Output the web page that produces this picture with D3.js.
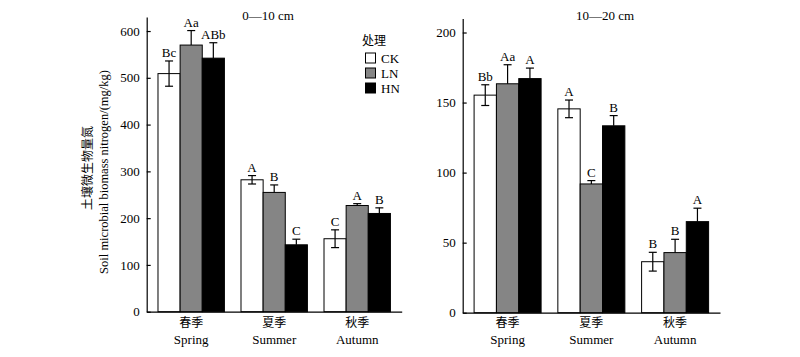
<!DOCTYPE html>
<html>
<head>
<meta charset="utf-8">
<script src="https://cdn.jsdelivr.net/npm/d3@7"></script>
<style>
  html, body { margin: 0; padding: 0; background: #fff; }
  svg text { font-family: "Liberation Serif", "Times New Roman", "Noto Sans CJK SC", serif; fill: #000; }
</style>
</head>
<body>
<svg id="chart" width="800" height="357"></svg>
<script>
// ---- data ----
const seasonsZh = ["春季", "夏季", "秋季"];
const seasonsEn = ["Spring", "Summer", "Autumn"];
const treatments = ["CK", "LN", "HN"];
const colors = ["#ffffff", "#858585", "#000000"];

// 0-10 cm
const top10Mean = [[509, 570, 542], [282, 255, 143], [156, 227, 210]];
const top10Err  = [[27, 31, 33], [9, 16, 12], [19, 4, 12]];
const top10Lab  = [["Bc", "Aa", "ABb"], ["A", "B", "C"], ["C", "A", "B"]];
const top10Ticks = [0, 100, 200, 300, 400, 500, 600];

// 10-20 cm
const sub20Mean = [[155.3, 163.4, 167.1], [145.5, 91.9, 133.4], [36.4, 42.9, 65]];
const sub20Err  = [[7.4, 13.6, 7.5], [6.3, 2.4, 7.3], [6.7, 9.5, 9.6]];
const sub20Lab  = [["Bb", "Aa", "A"], ["A", "C", "B"], ["B", "B", "A"]];
const sub20Ticks = [0, 50, 100, 150, 200];

const svg = d3.select("#chart");

function panel(cfg) {
  const g = svg.append("g");
  const x0 = d3.scaleBand().domain(seasonsEn).range([cfg.x0, cfg.x1])
    .paddingInner(0.2).paddingOuter(0.136);
  const x1 = d3.scaleBand().domain(treatments).range([0, x0.bandwidth()]);
  const y = d3.scaleLinear().domain([0, cfg.ymax]).range([cfg.yBottom, cfg.yTop]);

  // y axis
  const yAxis = d3.axisLeft(y).tickValues(cfg.ticks).tickSizeInner(-4).tickSizeOuter(0).tickPadding(7);
  const ya = g.append("g").attr("transform", `translate(${cfg.x0},0)`).call(yAxis);
  ya.selectAll("path,line").attr("stroke", "#000").attr("stroke-width", 1.2);
  ya.selectAll("text").attr("font-size", 13)
    .style("font-family", '"Liberation Serif", "Times New Roman", serif');

  // bars
  cfg.mean.forEach((row, si) => {
    const gx = x0(seasonsEn[si]);
    row.forEach((v, ti) => {
      const bx = gx + x1(treatments[ti]);
      const bw = x1.bandwidth();
      g.append("rect")
        .attr("x", bx).attr("y", y(v))
        .attr("width", bw).attr("height", y(0) - y(v))
        .attr("fill", colors[ti]).attr("stroke", "#000").attr("stroke-width", 1);
      const e = cfg.err[si][ti];
      const cx = bx + bw / 2;
      const capW = 4;
      // upper error bar
      g.append("line").attr("x1", cx).attr("x2", cx).attr("y1", y(v + e)).attr("y2", y(v))
        .attr("stroke", "#000").attr("stroke-width", 1.2);
      g.append("line").attr("x1", cx - capW).attr("x2", cx + capW).attr("y1", y(v + e)).attr("y2", y(v + e))
        .attr("stroke", "#000").attr("stroke-width", 1.2);
      // lower error bar only visible on the open (white) bars
      if (ti === 0) {
        g.append("line").attr("x1", cx).attr("x2", cx).attr("y1", y(v)).attr("y2", y(v - e))
          .attr("stroke", "#000").attr("stroke-width", 1.2);
        g.append("line").attr("x1", cx - capW).attr("x2", cx + capW).attr("y1", y(v - e)).attr("y2", y(v - e))
          .attr("stroke", "#000").attr("stroke-width", 1.2);
      }
      g.append("text").attr("x", cx).attr("y", y(v + e) - 4)
        .attr("text-anchor", "middle").attr("font-size", 13)
        .text(cfg.labels[si][ti]);
    });
    // category labels
    const cxg = gx + x0.bandwidth() / 2;
    g.append("text").attr("x", cxg).attr("y", 327).attr("text-anchor", "middle")
      .attr("font-size", 12).style("font-family", '"Noto Sans CJK SC", sans-serif').text(seasonsZh[si]);
    g.append("text").attr("x", cxg).attr("y", 344).attr("text-anchor", "middle")
      .attr("font-size", 13).text(seasonsEn[si]);
  });

  // x axis line
  const xAxis = d3.axisBottom(x0).tickSize(0).tickFormat("").tickSizeOuter(0);
  const xa = g.append("g").attr("transform", `translate(0,${y(0)})`).call(xAxis);
  xa.select("path").attr("stroke", "#000").attr("stroke-width", 1.2);

  // panel title
  g.append("text").attr("x", cfg.titleX).attr("y", 20).attr("text-anchor", "middle")
    .attr("font-size", 13).text(cfg.title);
}

panel({ x0: 146.7, x1: 401.7, yBottom: 311.7, yTop: 17, ymax: 630, ticks: top10Ticks,
        mean: top10Mean, err: top10Err, labels: top10Lab, title: "0—10 cm", titleX: 268 });
panel({ x0: 462.7, x1: 720, yBottom: 312.7, yTop: 18.5, ymax: 210, ticks: sub20Ticks,
        mean: sub20Mean, err: sub20Err, labels: sub20Lab, title: "10—20 cm", titleX: 605 });

// y axis title (two lines)
svg.append("text").attr("transform", "translate(92,168) rotate(-90)")
  .attr("text-anchor", "middle").attr("font-size", 12)
  .style("font-family", '"Noto Sans CJK SC", sans-serif').text("土壤微生物量氮");
svg.append("text").attr("transform", "translate(108,172) rotate(-90)")
  .attr("text-anchor", "middle").attr("font-size", 12.5)
  .text("Soil microbial biomass nitrogen/(mg/kg)");

// legend
const leg = svg.append("g");
leg.append("text").attr("x", 362).attr("y", 45).attr("font-size", 12)
  .style("font-family", '"Noto Sans CJK SC", sans-serif').text("处理");
treatments.forEach((t, i) => {
  const yy = 53 + i * 15;
  leg.append("rect").attr("x", 365.5).attr("y", yy).attr("width", 10).attr("height", 10)
    .attr("fill", colors[i]).attr("stroke", "#000").attr("stroke-width", 1);
  leg.append("text").attr("x", 381).attr("y", yy + 10).attr("font-size", 13).text(t);
});
</script>
</body>
</html>
